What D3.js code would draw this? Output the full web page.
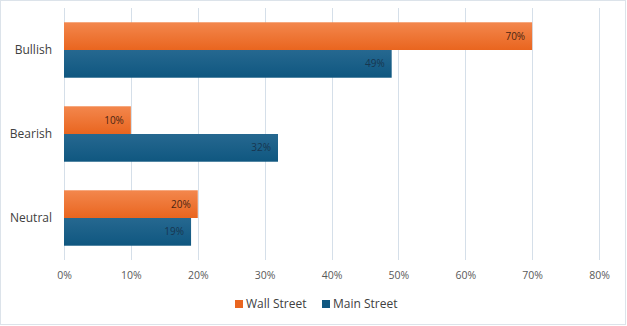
<!DOCTYPE html>
<html>
<head>
<meta charset="utf-8">
<script src="https://cdn.jsdelivr.net/npm/d3@7"></script>
<style>
  html, body { margin: 0; padding: 0; background: #fff; }
  svg { display: block; font-family: "Open Sans", sans-serif; }
</style>
</head>
<body>
<svg id="chart" width="627" height="326"></svg>
<script>
// Survey sentiment: share of respondents per outlook
const categories = ["Bullish", "Bearish", "Neutral"];
const seriesNames = ["Wall Street", "Main Street"];
const wallStreet = [0.70, 0.10, 0.20];
const mainStreet = [0.49, 0.32, 0.19];
const xTicks = [0, 0.1, 0.2, 0.3, 0.4, 0.5, 0.6, 0.7, 0.8];

const seriesValues = [wallStreet, mainStreet];
const colors = [
  { top: "#F3874D", bottom: "#E9651F", label: "#4a2412" },
  { top: "#266890", bottom: "#0F5780", label: "#173650" }
];

const W = 627, H = 326;
const svg = d3.select("#chart");

// frame around the chart area
svg.append("rect")
  .attr("x", 0.5).attr("y", 0.5)
  .attr("width", W - 2).attr("height", H - 2)
  .attr("fill", "#fff")
  .attr("stroke", "#DCE3EA").attr("stroke-width", 1);

const x = d3.scaleLinear().domain([0, 0.8]).range([64, 599]);
const y = d3.scaleBand().domain(categories).range([8, 260])
  .paddingInner(0.34).paddingOuter(0.17);
const ySub = d3.scaleBand().domain(seriesNames).range([0, y.bandwidth()]);

// bar gradients
const defs = svg.append("defs");
colors.forEach((c, i) => {
  const g = defs.append("linearGradient")
    .attr("id", "grad" + i)
    .attr("x1", 0).attr("y1", 0).attr("x2", 0).attr("y2", 1);
  g.append("stop").attr("offset", "0%").attr("stop-color", c.top);
  g.append("stop").attr("offset", "100%").attr("stop-color", c.bottom);
});

// vertical gridlines
svg.append("g")
  .selectAll("line")
  .data(xTicks)
  .join("line")
  .attr("x1", d => Math.round(x(d)) + 0.5)
  .attr("x2", d => Math.round(x(d)) + 0.5)
  .attr("y1", 8).attr("y2", 260)
  .attr("stroke", "#D5DFE9").attr("stroke-width", 1);

// x axis labels
const xAxis = d3.axisBottom(x)
  .tickValues(xTicks)
  .tickFormat(d3.format(".0%"))
  .tickSize(0).tickPadding(0);
const gx = svg.append("g").attr("transform", "translate(0,272)").call(xAxis);
gx.select(".domain").remove();
gx.selectAll("text")
  .attr("fill", "#595959")
  .attr("font-size", "10.5px")
  .attr("font-family", "'Open Sans', sans-serif");

// category labels
const yAxis = d3.axisLeft(y).tickSize(0).tickPadding(12);
const gy = svg.append("g").attr("transform", "translate(64,0)").call(yAxis);
gy.select(".domain").remove();
gy.selectAll("text")
  .attr("fill", "#404040")
  .attr("font-size", "12px")
  .attr("font-family", "'Open Sans', sans-serif");

// bars
const groups = svg.append("g")
  .selectAll("g")
  .data(categories)
  .join("g")
  .attr("transform", d => `translate(0,${y(d)})`);

seriesNames.forEach((name, si) => {
  groups.append("rect")
    .attr("x", x(0))
    .attr("y", ySub(name))
    .attr("width", (d, ci) => x(seriesValues[si][ci]) - x(0))
    .attr("height", ySub.bandwidth())
    .attr("fill", `url(#grad${si})`);

  groups.append("text")
    .attr("x", (d, ci) => x(seriesValues[si][ci]) - 7)
    .attr("y", ySub(name) + ySub.bandwidth() / 2)
    .attr("dy", "0.35em")
    .attr("text-anchor", "end")
    .attr("font-size", "10px")
    .attr("fill", colors[si].label)
    .text((d, ci) => d3.format(".0%")(seriesValues[si][ci]));
});

// legend
const legendX = [235, 322];
const legend = svg.append("g");
seriesNames.forEach((name, i) => {
  legend.append("rect")
    .attr("x", legendX[i]).attr("y", 300)
    .attr("width", 8).attr("height", 8)
    .attr("fill", colors[i].bottom);
  legend.append("text")
    .attr("x", legendX[i] + 11).attr("y", 304)
    .attr("dy", "0.35em")
    .attr("font-size", "12px")
    .attr("fill", "#404040")
    .text(name);
});
</script>
</body>
</html>
